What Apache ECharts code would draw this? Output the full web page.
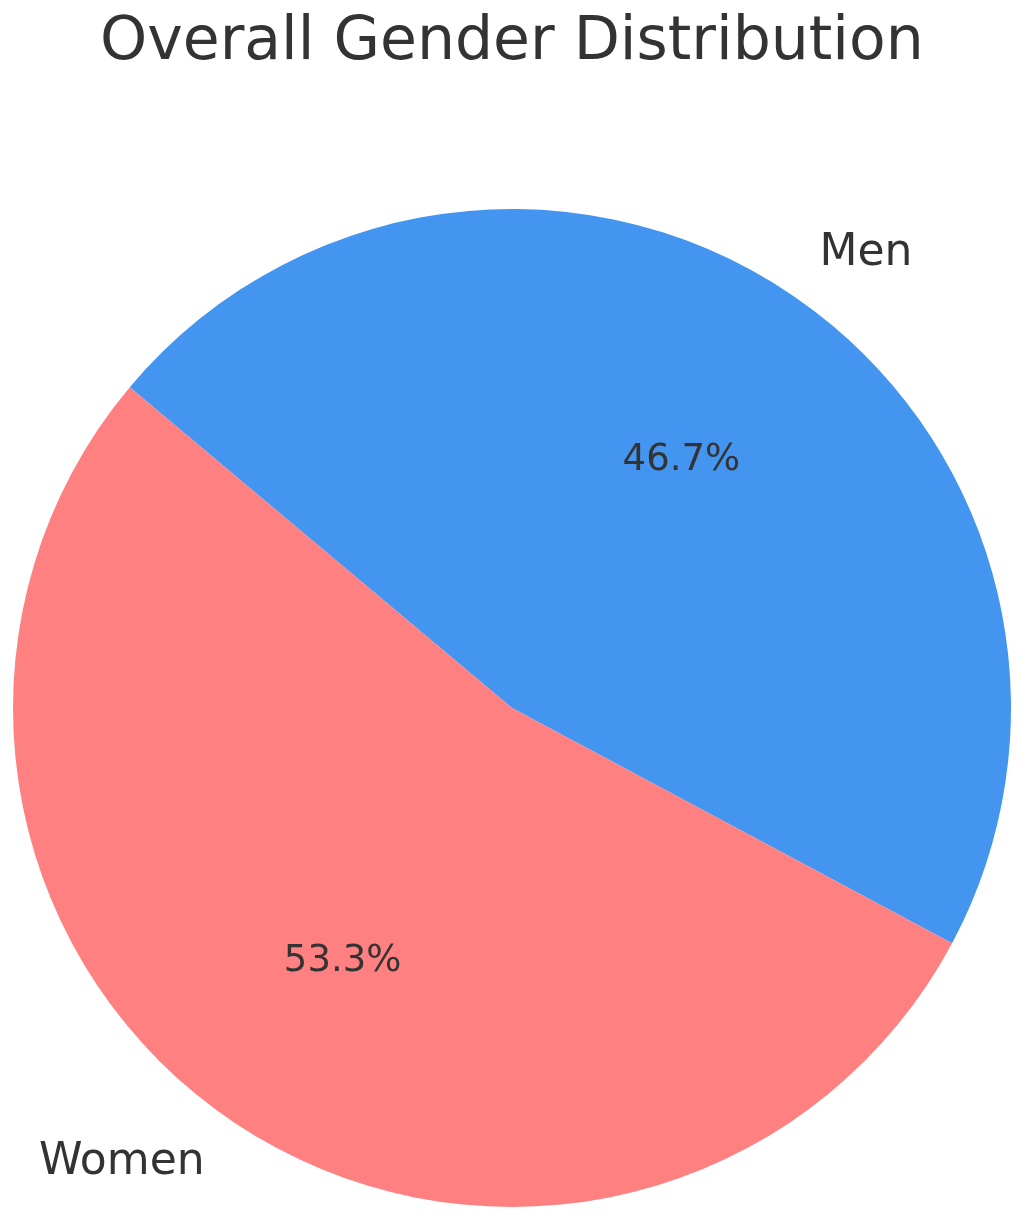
<!DOCTYPE html>
<html>
<head>
<meta charset="utf-8">
<script src="https://cdn.jsdelivr.net/npm/echarts@6/dist/echarts.min.js"></script>
<style>
  html, body { margin: 0; padding: 0; background: #ffffff; }
  #chart { width: 1031px; height: 1231px; }
</style>
</head>
<body>
<div id="chart"></div>
<script>
// values
const categories = ['Men', 'Women'];
const shares = [46.7, 53.3];
const colors = ['#4495ef', '#ff8080'];

const chart = echarts.init(document.getElementById('chart'));

const sliceData = categories.map((name, i) => ({
  name,
  value: shares[i],
  itemStyle: { color: colors[i] },
}));

const R = 499;

chart.setOption({
  animation: false,
  title: {
    text: 'Overall Gender Distribution',
    left: 95,
    top: 8,
    textStyle: {
      fontFamily: 'DejaVu Sans',
      fontSize: 60,
      fontWeight: 'normal',
      color: '#333333',
    },
  },
  series: [
    {
      // wedges + outer names
      type: 'pie',
      center: [512, 708],
      radius: [0, R],
      startAngle: 140,
      clockwise: true,
      avoidLabelOverlap: false,
      silent: true,
      data: sliceData,
      label: {
        show: true,
        position: 'outside',
        formatter: '{b}',
        fontFamily: 'DejaVu Sans',
        fontSize: 44,
        color: '#333333',
        distanceToLabelLine: 0,
      },
      labelLine: {
        show: false,
        length: R * 0.1,
        length2: 0,
      },
    },
    {
      // transparent ring, only used to place the percentages at 0.6 r
      type: 'pie',
      center: [512, 708],
      radius: [0, R * 1.2],
      startAngle: 140,
      clockwise: true,
      avoidLabelOverlap: false,
      silent: true,
      z: 3,
      data: categories.map((name, i) => ({ name, value: shares[i] })),
      itemStyle: { color: 'rgba(0,0,0,0)' },
      label: {
        show: true,
        position: 'inside',
        formatter: (p) => p.percent.toFixed(1) + '%',
        fontFamily: 'DejaVu Sans',
        fontSize: 37,
        color: '#333333',
        offset: [0, 3],
      },
      labelLine: { show: false },
    },
  ],
});
</script>
</body>
</html>
